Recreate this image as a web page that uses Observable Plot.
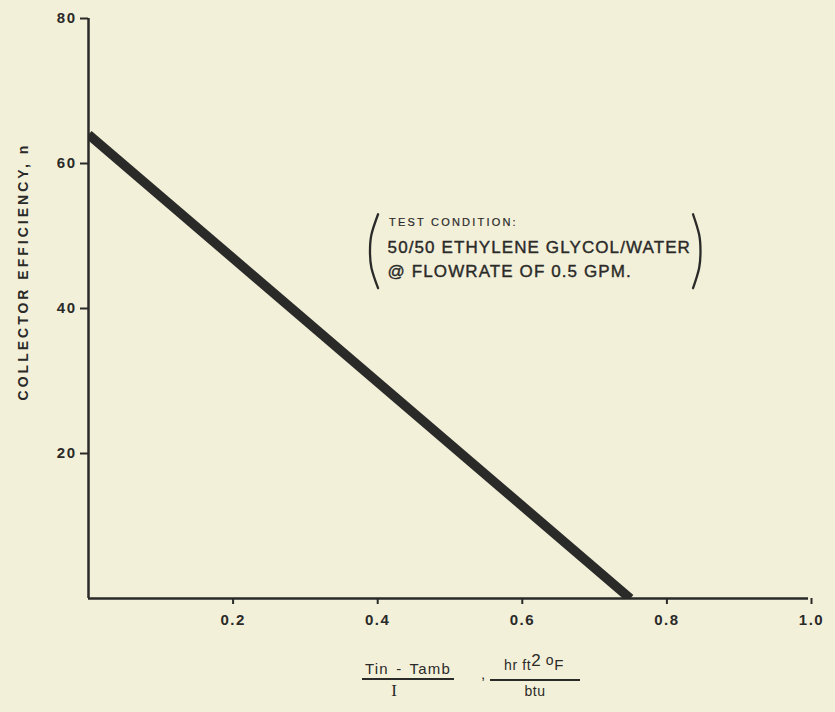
<!DOCTYPE html>
<html>
<head>
<meta charset="utf-8">
<script src="https://cdn.jsdelivr.net/npm/d3@7"></script>
<script src="https://cdn.jsdelivr.net/npm/@observablehq/plot@0.6"></script>
<style>
  html, body { margin: 0; padding: 0; background: #f3f0da; }
  #wrap { position: relative; width: 835px; height: 712px; background: #f3f0da; overflow: hidden;
          font-family: "Liberation Sans", Arial, sans-serif; color: #2a2a28; }
  #chart svg { display: block; }
  .abs { position: absolute; transform: translate(-50%, -50%); white-space: nowrap; }
  .bar { position: absolute; height: 2px; background: #2a2a28; }
</style>
</head>
<body>
<div id="wrap">
  <div id="chart"></div>
  <div class="abs" style="left:408px; top:668px; font-size:15px; letter-spacing:1.2px; word-spacing:2px;">Tin - Tamb</div>
  <div class="bar" style="left:362px; top:678px; width:92px;"></div>
  <div class="abs" style="left:394px; top:691px; font-size:17px; font-family:'Liberation Serif',serif;">I</div>
  <div class="abs" style="left:483px; top:673px; font-size:15px;">,</div>
  <div class="abs" style="left:534px; top:665px; font-size:14px; letter-spacing:0.6px;">hr ft<span style="font-size:17px; position:relative; top:-4px;">2</span> <span style="font-size:14px; position:relative; top:-5px;">o</span><span style="font-size:15px;">F</span></div>
  <div class="bar" style="left:490px; top:679px; width:90px;"></div>
  <div class="abs" style="left:535px; top:691px; font-size:14px; letter-spacing:0.5px;">btu</div>
</div>
<script>
// ---- data ----
const xTicks = [0.2, 0.4, 0.6, 0.8, 1.0];
const yTicks = [20, 40, 60, 80];
const effX = [0, 0.74];          // (Tin - Tamb)/I
const effY = [64, 0];            // collector efficiency
const yLabel = "COLLECTOR EFFICIENCY, n";
const noteLines = ["TEST CONDITION:", "50/50 ETHYLENE GLYCOL/WATER", "@ FLOWRATE OF 0.5 GPM."];
const noteX = [0.409, 0.407, 0.407];
const noteY = [51.9, 48.4, 45.1];
// bracket shapes around note (data units)
const leftParenX = [0.394, 0.385, 0.383, 0.385, 0.394];
const leftParenY = [53.0, 50.2, 47.9, 45.6, 42.8];
const rightParenX = [0.829, 0.838, 0.840, 0.838, 0.829];
const rightParenY = [53.0, 50.2, 47.9, 45.6, 42.8];

// the hand-drafted x axis has slightly uneven tick spacing
const xDraft = d3.scaleLinear()
  .domain([0, 0.2, 0.4, 0.6, 0.8, 1.0])
  .range([0, 0.2033, 0.4066, 0.6100, 0.8091, 0.9959]);

const ink = "#2a2a28";
const eff = effX.map((x, i) => ({x, y: effY[i]}));
const lp = leftParenX.map((x, i) => ({x, y: leftParenY[i]}));
const rp = rightParenX.map((x, i) => ({x, y: rightParenY[i]}));
const notes = noteLines.map((t, i) => ({t, x: noteX[i], y: noteY[i], i}));

const chart = Plot.plot({
  width: 835,
  height: 640,
  marginTop: 18,
  marginBottom: 42,
  marginLeft: 88,
  marginRight: 24,
  style: {background: "transparent", color: ink, fontFamily: "Liberation Sans, Arial, sans-serif"},
  x: {domain: [0, 1], transform: xDraft},
  y: {domain: [0, 80]},
  marks: [
    Plot.ruleX([0], {y1: 0, y2: 80, stroke: ink, strokeWidth: 2.5}),
    Plot.ruleY([0], {x1: 0, x2: 1.0, stroke: ink, strokeWidth: 2.5}),
    Plot.axisX({ticks: xTicks, tickFormat: d => d.toFixed(1), tickSize: 6, tickPadding: 10,
                fontSize: 15, fontWeight: "bold", label: null, stroke: ink, strokeWidth: 2, fill: ink}),
    Plot.axisY({ticks: yTicks, tickFormat: d => String(d), tickSize: 8, tickPadding: 4,
                fontSize: 15, fontWeight: "bold", label: null, stroke: ink, strokeWidth: 2, fill: ink}),
    Plot.line(eff, {x: "x", y: "y", stroke: ink, strokeWidth: 9.5, strokeLinecap: "butt", clip: true}),
    Plot.text([yLabel], {frameAnchor: "left", textAnchor: "middle", dx: -65, dy: -37, rotate: -90, fontSize: 14,
                fontWeight: "bold", fill: ink, text: d => d}),
    Plot.text(notes.filter(d => d.i === 0), {x: "x", y: "y", text: "t", textAnchor: "start", fontSize: 11,
                fill: ink, stroke: ink, strokeWidth: 0.2}),
    Plot.text(notes.filter(d => d.i > 0), {x: "x", y: "y", text: "t", textAnchor: "start", fontSize: 17,
                fill: ink, stroke: ink, strokeWidth: 0.4}),
    Plot.line(lp, {x: "x", y: "y", curve: "natural", stroke: ink, strokeWidth: 2.3}),
    Plot.line(rp, {x: "x", y: "y", curve: "natural", stroke: ink, strokeWidth: 2.3})
  ]
});
document.getElementById("chart").appendChild(chart);

// letter spacing touches
const tickLabels = new Set([...xTicks.map(d => d.toFixed(1)), ...yTicks.map(String)]);
d3.select(chart).selectAll("text").each(function() {
  const t = this.textContent;
  if (t === yLabel) this.style.letterSpacing = "3px";
  if (t === noteLines[0]) this.style.letterSpacing = "2.2px";
  if (t === noteLines[1] || t === noteLines[2]) this.style.letterSpacing = "1.1px";
  if (tickLabels.has(t)) this.style.letterSpacing = "1.5px";
});
</script>
</body>
</html>
